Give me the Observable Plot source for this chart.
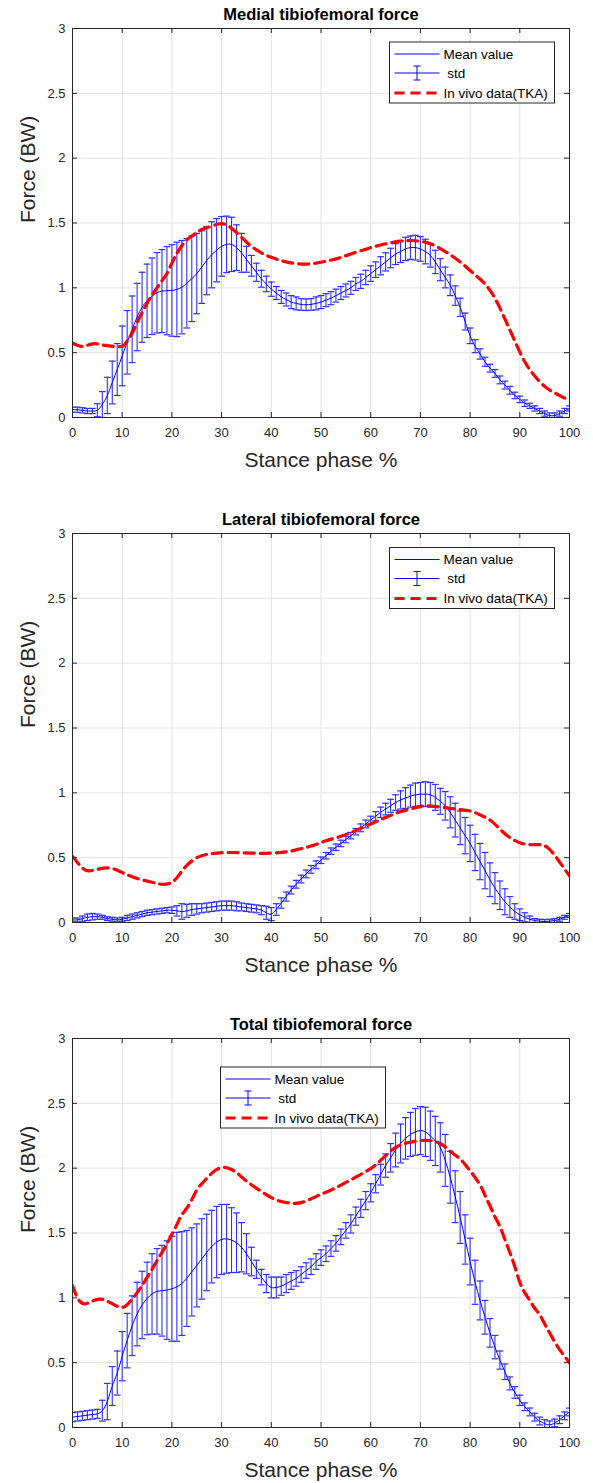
<!DOCTYPE html>
<html><head><meta charset="utf-8">
<script src="https://cdn.jsdelivr.net/npm/d3@7"></script>
<script src="https://cdn.jsdelivr.net/npm/@observablehq/plot@0.6"></script>
<style>
body{margin:0;background:#fff;font-family:"Liberation Sans",Arial,sans-serif}
#root{position:relative;width:593px;height:1483px;overflow:hidden}
#root svg{position:absolute;left:0}
</style></head><body><div id="root"></div>
<script>
// ---------- data ----------
const pct = d3.range(0, 101);
const xTicks = [0,10,20,30,40,50,60,70,80,90,100];
const yTicks = [0,0.5,1,1.5,2,2.5,3];
const titles = ["Medial tibiofemoral force","Lateral tibiofemoral force","Total tibiofemoral force"];
const legendLabels = ["Mean value"," std","In vivo data(TKA)"];

const mean1 = [0.06,0.06,0.055,0.05,0.05,0.056,0.1,0.17,0.27,0.37,
0.475,0.58,0.68,0.775,0.85,0.9,0.935,0.962,0.975,0.978,
0.98,0.988,1.005,1.035,1.07,1.11,1.16,1.21,1.255,1.29,
1.32,1.335,1.335,1.31,1.27,1.22,1.17,1.12,1.07,1.03,
0.99,0.96,0.93,0.91,0.89,0.88,0.872,0.87,0.872,0.88,
0.89,0.905,0.92,0.94,0.96,0.98,1.0,1.03,1.05,1.08,
1.11,1.14,1.17,1.2,1.23,1.26,1.28,1.3,1.31,1.31,
1.3,1.28,1.25,1.2,1.14,1.08,1.02,0.94,0.85,0.74,
0.63,0.55,0.49,0.43,0.38,0.34,0.29,0.25,0.21,0.17,
0.14,0.11,0.09,0.07,0.05,0.03,0.015,0.015,0.03,0.05,0.07];
const std1 = [0.02,0.02,0.02,0.02,0.02,0.05,0.1,0.14,0.165,0.2,
0.23,0.245,0.257,0.26,0.27,0.283,0.295,0.31,0.32,0.34,
0.353,0.364,0.36,0.345,0.33,0.31,0.28,0.263,0.255,0.244,
0.23,0.218,0.209,0.176,0.15,0.1,0.08,0.07,0.065,0.06,
0.055,0.05,0.05,0.05,0.05,0.05,0.045,0.045,0.045,0.05,
0.05,0.05,0.05,0.05,0.05,0.05,0.05,0.05,0.055,0.055,
0.06,0.06,0.07,0.07,0.075,0.08,0.085,0.09,0.09,0.095,
0.095,0.095,0.09,0.09,0.085,0.08,0.08,0.075,0.07,0.065,
0.06,0.05,0.04,0.035,0.03,0.03,0.03,0.03,0.03,0.025,
0.025,0.025,0.02,0.02,0.02,0.02,0.02,0.02,0.02,0.02,0.02];
const vivoX1 = [0,2,4,6,8,10,11,12,13,14,15,16,17,18,19,20,21,22,23,24,25,26,28,30,32,34,36,38,40,43,47,51,54,58,62,66,69,72,75,78,81,83,85,87,89,91,93,95,97,100];
const vivoY1 = [0.575,0.548,0.568,0.56,0.55,0.55,0.59,0.65,0.73,0.81,0.88,0.945,1.0,1.055,1.11,1.19,1.265,1.325,1.37,1.4,1.425,1.45,1.475,1.495,1.46,1.39,1.32,1.27,1.235,1.2,1.183,1.205,1.235,1.286,1.33,1.36,1.363,1.34,1.28,1.2,1.1,1.03,0.92,0.76,0.59,0.43,0.32,0.24,0.19,0.13];

const mean2 = [0.02,0.02,0.03,0.04,0.045,0.045,0.04,0.03,0.025,0.02,
0.025,0.035,0.045,0.055,0.065,0.075,0.08,0.085,0.09,0.095,
0.095,0.09,0.085,0.09,0.1,0.105,0.11,0.115,0.12,0.125,
0.13,0.13,0.13,0.125,0.12,0.115,0.11,0.105,0.095,0.075,
0.065,0.1,0.15,0.2,0.25,0.295,0.335,0.375,0.41,0.445,
0.48,0.515,0.55,0.58,0.61,0.64,0.67,0.7,0.73,0.76,
0.79,0.82,0.85,0.875,0.9,0.925,0.945,0.96,0.975,0.985,
0.99,0.99,0.985,0.965,0.935,0.9,0.85,0.79,0.73,0.67,
0.61,0.54,0.47,0.4,0.33,0.265,0.21,0.16,0.12,0.085,
0.06,0.04,0.025,0.015,0.01,0.008,0.01,0.015,0.025,0.04,0.055];
const std2 = [0.015,0.015,0.02,0.025,0.025,0.02,0.015,0.015,0.015,0.015,
0.015,0.02,0.02,0.02,0.02,0.02,0.02,0.02,0.02,0.02,
0.025,0.04,0.06,0.05,0.045,0.04,0.035,0.035,0.035,0.035,
0.035,0.035,0.035,0.035,0.03,0.03,0.03,0.03,0.035,0.05,
0.05,0.045,0.04,0.035,0.03,0.03,0.03,0.03,0.03,0.03,
0.025,0.025,0.025,0.025,0.025,0.025,0.025,0.025,0.03,0.03,
0.03,0.035,0.04,0.045,0.05,0.06,0.07,0.08,0.085,0.09,
0.09,0.095,0.095,0.1,0.1,0.11,0.12,0.13,0.13,0.14,
0.14,0.14,0.14,0.14,0.13,0.12,0.11,0.1,0.08,0.06,
0.045,0.035,0.025,0.015,0.015,0.015,0.015,0.015,0.015,0.015,0.015];
const vivoX2 = [0,1.5,3,5,7.5,10,13,16,18,20,21.5,23,25,27,29,32,36,40,43,45,48,51,54,57,60,63,66,69,71,74,77,80,82,84,86,88,90,92,94,95.5,97,98.5,100];
const vivoY2 = [0.51,0.44,0.4,0.41,0.42,0.385,0.34,0.31,0.295,0.31,0.37,0.44,0.5,0.525,0.535,0.54,0.535,0.535,0.545,0.56,0.59,0.63,0.665,0.71,0.76,0.81,0.855,0.885,0.9,0.89,0.875,0.86,0.83,0.79,0.72,0.655,0.615,0.6,0.6,0.58,0.52,0.44,0.36];

const mean3 = [0.08,0.085,0.09,0.095,0.1,0.105,0.13,0.2,0.32,0.42,
0.55,0.67,0.785,0.875,0.945,0.995,1.03,1.05,1.055,1.06,
1.07,1.085,1.11,1.15,1.2,1.25,1.3,1.35,1.395,1.43,
1.45,1.455,1.445,1.425,1.39,1.34,1.28,1.22,1.16,1.11,
1.08,1.08,1.09,1.11,1.13,1.15,1.18,1.21,1.24,1.28,
1.31,1.34,1.38,1.42,1.47,1.52,1.57,1.63,1.69,1.75,
1.81,1.88,1.95,2.02,2.08,2.14,2.19,2.23,2.26,2.28,
2.29,2.28,2.25,2.21,2.16,2.06,1.93,1.78,1.62,1.45,
1.28,1.12,0.98,0.85,0.73,0.62,0.52,0.43,0.34,0.27,
0.21,0.16,0.12,0.08,0.05,0.03,0.02,0.035,0.06,0.09,0.12];
const std3 = [0.035,0.035,0.035,0.035,0.035,0.035,0.08,0.14,0.15,0.17,
0.19,0.21,0.23,0.245,0.26,0.28,0.31,0.33,0.35,0.38,
0.405,0.42,0.4,0.37,0.34,0.32,0.31,0.295,0.28,0.275,
0.27,0.265,0.25,0.23,0.19,0.155,0.11,0.07,0.06,0.07,
0.08,0.08,0.07,0.07,0.065,0.06,0.06,0.06,0.06,0.06,
0.06,0.06,0.06,0.06,0.06,0.06,0.07,0.07,0.07,0.07,
0.07,0.07,0.08,0.09,0.11,0.13,0.15,0.16,0.17,0.18,
0.185,0.19,0.19,0.19,0.19,0.2,0.2,0.2,0.2,0.19,
0.18,0.17,0.15,0.13,0.11,0.09,0.07,0.06,0.05,0.045,
0.04,0.03,0.03,0.03,0.03,0.03,0.03,0.03,0.03,0.03,0.03];
const vivoX3 = [0,1,2.3,4,5.5,7,9,10.6,12,13,14.4,16,17,18,19,20,21,22,23.5,25,26.5,28,30,32,33.5,35,38,41,44,46.5,49.5,52.5,56,59.5,62,65,68,71,74,76,78,80,82,83,84,85,86,87,88,89,90,91,92,93,94,95,96,97.5,99,100];
const vivoY3 = [1.095,1.0,0.954,0.975,0.99,0.975,0.935,0.935,0.99,1.04,1.12,1.22,1.287,1.35,1.415,1.49,1.565,1.64,1.72,1.83,1.9,1.96,2.005,1.99,1.95,1.9,1.82,1.755,1.73,1.74,1.79,1.84,1.91,1.985,2.06,2.16,2.2,2.215,2.19,2.13,2.07,1.98,1.87,1.79,1.71,1.625,1.55,1.45,1.35,1.24,1.12,1.04,0.98,0.92,0.87,0.8,0.73,0.63,0.55,0.5];

// ---------- layout ----------
const W = 593, ML = 72, MR = 24, MT = 28, PH = 389;
const PW = W - ML - MR;
const panels = [
  {top: 0, height: 505, mean: mean1, std: std1, vx: vivoX1, vy: vivoY1, title: titles[0], legend: {x: 389.5, y: 42}},
  {top: 505, height: 505, mean: mean2, std: std2, vx: vivoX2, vy: vivoY2, title: titles[1], legend: {x: 389.5, y: 547.5}},
  {top: 1010, height: 473, mean: mean3, std: std3, vx: vivoX3, vy: vivoY3, title: titles[2], legend: {x: 220.5, y: 1067}}
];
const BLUE = "#0000ff", BAR = "#3030ff", RED = "#ff0000", AX = "#262626", GRID = "#e3e3e3";
const FONT = "'Liberation Sans', Arial, sans-serif";
const root = document.getElementById("root");

panels.forEach(p => {
  const data = pct.map((x, i) => ({x, m: p.mean[i], s: p.std[i]}));
  const vivo = p.vx.map((x, i) => ({x, y: p.vy[i]}));
  const svg = Plot.plot({
    width: W, height: p.height,
    marginLeft: ML, marginRight: MR, marginTop: MT, marginBottom: p.height - MT - PH,
    style: {fontFamily: FONT, background: "white", color: AX},
    x: {domain: [0, 100]},
    y: {domain: [0, 3]},
    marks: [
      Plot.gridX(xTicks.slice(1, -1), {stroke: GRID, strokeOpacity: 1}),
      Plot.gridY(yTicks.slice(1, -1), {stroke: GRID, strokeOpacity: 1}),
      Plot.ruleX(data, {x: "x", y1: d => d.m - d.s, y2: d => d.m + d.s, stroke: BAR, strokeWidth: 1.1, clip: true}),
      Plot.link(data, {x1: d => d.x - 0.68, x2: d => d.x + 0.68, y1: d => d.m + d.s, y2: d => d.m + d.s, stroke: BAR, strokeWidth: 1.2, clip: true}),
      Plot.link(data, {x1: d => d.x - 0.68, x2: d => d.x + 0.68, y1: d => d.m - d.s, y2: d => d.m - d.s, stroke: BAR, strokeWidth: 1.2, clip: true}),
      Plot.line(data, {x: "x", y: "m", stroke: BLUE, strokeWidth: 1, curve: "natural", clip: true}),
      Plot.line(vivo, {x: "x", y: "y", stroke: RED, strokeWidth: 3.2, strokeDasharray: "10,6", curve: "natural", clip: true}),
      Plot.frame({stroke: AX, strokeWidth: 1}),
      Plot.tickX(xTicks, {x: d => d, insetTop: PH - 5, stroke: AX}),
      Plot.tickX(xTicks, {x: d => d, insetBottom: PH - 5, stroke: AX}),
      Plot.tickY(yTicks, {y: d => d, insetRight: PW - 5, stroke: AX}),
      Plot.tickY(yTicks, {y: d => d, insetLeft: PW - 5, stroke: AX}),
      Plot.axisX(xTicks, {tickSize: 0, tickPadding: 10, fontSize: 13, fill: AX, tickFormat: d => String(d), label: null}),
      Plot.axisY(yTicks, {tickSize: 0, tickPadding: 7, fontSize: 13, fill: AX, tickFormat: d => String(d), label: null}),
      Plot.text(["Stance phase %"], {frameAnchor: "bottom", lineAnchor: "middle", dy: 43, fontSize: 21, fill: AX}),
      Plot.text(["Force (BW)"], {frameAnchor: "left", lineAnchor: "middle", dx: -44.5, rotate: -90, fontSize: 21, fill: AX}),
      Plot.text([p.title], {frameAnchor: "top", lineAnchor: "middle", dy: -14, fontSize: 16.5, fontWeight: "bold", fill: "#000"})
    ]
  });
  svg.style.top = p.top + "px";
  root.appendChild(svg);
});

// ---------- legends (overlay) ----------
const ov = d3.select(root).append("svg").attr("width", W).attr("height", 1483)
  .style("top", "0px").style("pointer-events", "none");
panels.forEach(p => {
  const g = ov.append("g").attr("transform", `translate(${p.legend.x},${p.legend.y})`);
  g.append("rect").attr("x", 0).attr("y", 0).attr("width", 165).attr("height", 61)
    .attr("fill", "white").attr("stroke", AX).attr("stroke-width", 1);
  const rows = [12, 31, 51];
  g.append("line").attr("x1", 5).attr("x2", 50).attr("y1", rows[0]).attr("y2", rows[0]).attr("stroke", BLUE).attr("stroke-width", 1);
  g.append("line").attr("x1", 5).attr("x2", 50).attr("y1", rows[1]).attr("y2", rows[1]).attr("stroke", BLUE).attr("stroke-width", 1);
  g.append("line").attr("x1", 27.5).attr("x2", 27.5).attr("y1", rows[1] - 7).attr("y2", rows[1] + 7).attr("stroke", BLUE);
  g.append("line").attr("x1", 24).attr("x2", 31).attr("y1", rows[1] - 7).attr("y2", rows[1] - 7).attr("stroke", BLUE);
  g.append("line").attr("x1", 24).attr("x2", 31).attr("y1", rows[1] + 7).attr("y2", rows[1] + 7).attr("stroke", BLUE);
  g.append("line").attr("x1", 5).attr("x2", 50).attr("y1", rows[2]).attr("y2", rows[2]).attr("stroke", RED)
    .attr("stroke-width", 3.2).attr("stroke-dasharray", "10,6");
  legendLabels.forEach((t, i) => {
    g.append("text").attr("x", 54).attr("y", rows[i]).attr("dy", "0.35em").attr("font-size", 13.5)
      .attr("xml:space", "preserve").style("white-space", "pre")
      .attr("font-family", FONT).attr("fill", "#000").text(t);
  });
});
</script>
</body></html>
